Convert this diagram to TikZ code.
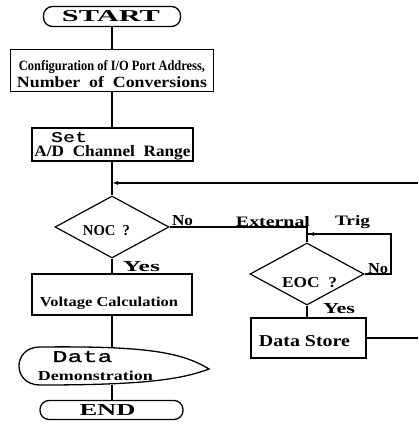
\documentclass[tikz,border=0pt]{standalone}
\usepackage{fontspec}
\usepackage{graphicx}
\usetikzlibrary{shapes.geometric,arrows.meta}
\newfontfamily\monof{Liberation Mono}[FakeBold=0.8]
\newfontfamily\serf{Liberation Serif}
\newcommand{\fitbox}[3]{\resizebox{#1pt}{#2pt}{#3}}
\tikzset{
  flow/.style={draw, line width=1.2pt},
  box/.style={draw, line width=1.3pt, rectangle, inner sep=0pt},
  term/.style={draw, line width=1.3pt, rectangle, rounded corners=9pt, inner sep=0pt},
  dec/.style={draw, diamond, line width=1.2pt, inner sep=0pt},
  lbl/.style={inner sep=0pt, anchor=base},
  tip/.style={-{Latex[length=6pt,width=4pt]}}
}
\begin{document}
\begin{tikzpicture}[x=1pt,y=-1pt]
\useasboundingbox (0,0) rectangle (418,426);
% main column
\node[term, minimum width=137pt, minimum height=20pt] (start) at (112,16.5) {};
\node[lbl] (starttxt) at (111,21.5) {\fitbox{98}{11}{\serf\bfseries START}};

\node[box, minimum width=203pt, minimum height=42pt] (conf) at (112,70.5) {};
\node[lbl] (conftxt1) at (112,70) {\fitbox{186}{10}{\serf\bfseries Configuration of I/O Port Address,}};
\node[lbl] (conftxt2) at (112,87) {\fitbox{190}{11}{\serf\bfseries Number\ \ of\ \ Conversions}};

\node[box, minimum width=161pt, minimum height=33pt] (set) at (112.5,144.5) {};
\node[lbl] (settxt1) at (69,142) {\fitbox{36}{10}{\monof Set}};
\node[lbl] (settxt2) at (112.5,156.5) {\fitbox{156}{11}{\serf\bfseries A/D\ \ Channel\ \ Range}};

\coordinate (fbjoin) at (112,183);
\coordinate (fbright) at (418,183);

\node[dec, minimum width=114pt, minimum height=62pt] (noc) at (112,227) {};
\node[lbl] (noctxt) at (106.5,235) {\fitbox{47}{10}{\serf\bfseries NOC\ \ ?}};
\node[lbl] (nocno) at (182.5,225) {\fitbox{21}{10}{\serf\bfseries No}};
\node[lbl] (nocyes) at (141.5,271) {\fitbox{37}{10}{\serf\bfseries Yes}};

\node[box, minimum width=160pt, minimum height=41pt] (volt) at (112,294.5) {};
\node[lbl] (volttxt) at (109,306) {\fitbox{138}{9.5}{\serf\bfseries Voltage Calculation}};

\coordinate (disptop) at (112,347);
\coordinate (dispbot) at (112,385);
\draw[line width=1.3pt] (40,347) .. controls (140,346) and (180,351) .. (209,369)
  .. controls (180,380) and (140,385) .. (40,385)
  .. controls (12,385) and (12,347) .. (40,347) -- cycle;
\node[lbl] (disptxt1) at (82.5,362) {\fitbox{60}{11}{\monof Data}};
\node[lbl] (disptxt2) at (95.5,380) {\fitbox{115}{9.5}{\serf\bfseries Demonstration}};

\node[term, minimum width=143pt, minimum height=19pt] (end) at (111.5,410) {};
\node[lbl] (endtxt) at (107.5,415.5) {\fitbox{56}{11}{\serf\bfseries END}};

% right branch
\node[lbl] (exttxt) at (273,226) {\fitbox{74}{10}{\serf\bfseries External}};
\node[lbl] (trigtxt) at (352.5,225) {\fitbox{35}{10}{\serf\bfseries Trig}};

\node[dec, minimum width=114pt, minimum height=62pt] (eoc) at (307,274) {};
\node[lbl] (eoctxt) at (309.5,287) {\fitbox{55}{10}{\serf\bfseries EOC\ \ ?}};
\node[lbl] (eocno) at (378,273) {\fitbox{20}{10}{\serf\bfseries No}};
\node[lbl] (eocyes) at (339,313) {\fitbox{32}{10}{\serf\bfseries Yes}};
\coordinate (loopjoin) at (308,234);
\coordinate (loopright) at (391,274);

\node[box, minimum width=115pt, minimum height=40pt] (store) at (308.5,338) {};
\node[lbl] (storetxt) at (304.5,346) {\fitbox{91}{11}{\serf\bfseries Data Store}};
\coordinate (storeright) at (418,338);

% connectors
\draw[flow] (start) -- (conf);
\draw[flow] (conf.south) -- (conf.south |- set.north);
\draw[flow] (set.south -| noc.north) -- (noc.north);
\draw[flow, tip] (fbright) -- (fbjoin);
\draw[flow] (noc.south) -- (noc.south |- volt.north);
\draw[flow] (volt.south -| disptop) -- (disptop);
\draw[flow] (dispbot) -- (dispbot |- end.north);
\draw[flow] (noc.east) -| (eoc.north);
\draw[flow] (eoc.east) -- (loopright) |- (loopjoin);
\draw[flow, tip] ([xshift=12pt]loopjoin) -- (loopjoin);
\draw[flow] (eoc.south) -- (eoc.south |- store.north);
\draw[flow] (store.east) -- (storeright);
\end{tikzpicture}
\end{document}
